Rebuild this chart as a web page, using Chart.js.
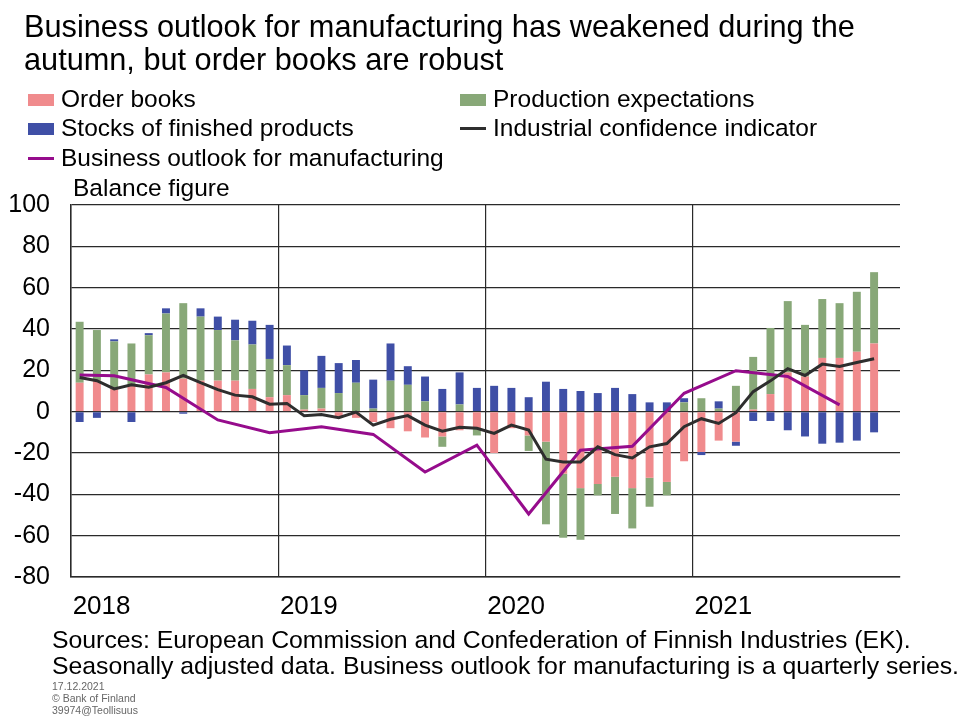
<!DOCTYPE html>
<html>
<head>
<meta charset="utf-8">
<title>Business outlook for manufacturing</title>
<script src="https://cdn.jsdelivr.net/npm/chart.js@4.4.1/dist/chart.umd.min.js"></script>
<style>
  body { margin: 0; background: #fff; font-family: "Liberation Sans", Arial, sans-serif; color: #000; }
  #page { position: relative; width: 966px; height: 718px; overflow: hidden; }
  #chart { position: absolute; left: 0; top: 0; }
  .txt { position: absolute; white-space: nowrap; }
  #title { left: 24px; top: 10px; font-size: 30.7px; line-height: 33px; }
  .leg { position: absolute; white-space: nowrap; font-size: 24.5px; line-height: 29px; }
  .leg i { position: absolute; display: block; }
  #unit { left: 73px; top: 174px; font-size: 24.5px; line-height: 28px; }
  #sources { left: 52px; top: 627px; font-size: 24.8px; line-height: 26px; }
  #small { left: 52px; top: 680px; font-size: 10.5px; line-height: 12px; color: #666; }
</style>
</head>
<body>
<div id="page">
  <canvas id="chart" width="966" height="718"></canvas>
  <div class="txt" id="title">Business outlook for manufacturing has weakened during the<br>autumn, but order books are robust</div>
  <div id="legend"></div>
  <div class="txt" id="unit">Balance figure</div>
  <div class="txt" id="sources">Sources: European Commission and Confederation of Finnish Industries (EK).<br>Seasonally adjusted data. Business outlook for manufacturing is a quarterly series.</div>
  <div class="txt" id="small">17.12.2021<br>© Bank of Finland<br>39974@Teollisuus</div>
</div>
<script>
// months Jan 2018 - Dec 2021
const years = ['2018', '2019', '2020', '2021'];
const monthNames = ['Jan', 'Feb', 'Mar', 'Apr', 'May', 'Jun', 'Jul', 'Aug', 'Sep', 'Oct', 'Nov', 'Dec'];
const labels = [];
years.forEach(y => monthNames.forEach(m => labels.push(m + ' ' + y)));

const orderBooks = [
  14, 15, 11, 13, 18, 19, 16, 15, 15, 15, 11, 7,
  8, 1, 1.5, -2.5, -3, -5, -8, -9.5, -12.5, -12, -9, -8,
  -20, -8, -11.5, -14.5, -30, -37, -35, -31.5, -37, -32, -34, -24,
  -19.5, -14, -14.5, 1, 8.5, 19, 17, 26, 26, 29, 33, null
];
const productionExpectations = [
  29.5, 24.5, 23, 20, 19, 28.5, 36.5, 31, 24.5, 19.5, 21.5, 18.5,
  14.5, 7, 10, 9, 14, 1.5, 15, 13, 5, -5, 3.5, -3.5,
  0, 0, -7.5, -40, -31, -25, -5.5, -18, -19.5, -14, -6.5, 4.5,
  6.5, 1.5, 12.5, 25.5, 32, 34.5, 25, 28.5, 26.5, 29, 34.5, null
];
const stocksOfFinishedProducts = [
  -5, -3, 1, -5, 1, 2.5, -1, 4, 6.5, 10, 11.5, 16.5,
  9.5, 12, 15.5, 14.5, 11, 14, 18, 9, 12, 11, 15.5, 11.5,
  12.5, 11.5, 7, 14.5, 11, 10, 9, 11.5, 8.5, 4.5, 4.5, 2,
  -1.5, 3.5, -2, -4.5, -4.5, -9, -12, -15.5, -15, -14, -10, null
];
const industrialConfidence = [
  16.5, 15, 11, 13, 11.8, 14, 17.6, 14, 10.7, 8, 7.2, 3.6,
  4, -2, -1.4, -2.9, -0.2, -6.5, -3.7, -1.9, -6.5, -9.4, -7.5, -8,
  -10.5, -6.5, -8.9, -23, -24.3, -24.3, -17, -20.8, -22.4, -17, -15.4, -7.3,
  -3.4, -5.7, -0.5, 9.7, 14.9, 20.8, 17.5, 23, 21.9, 23.8, 25.6, null
];
// quarterly series, placed on the last month of each quarter
const businessOutlook = [
  17.8, null, 17.4, null, null, 11.7, null, null, -4, null, null, -10.2,
  null, null, -7.3, null, null, -11, null, null, -29.2, null, null, -16.2,
  null, null, -49.5, null, null, -18.7, null, null, -16.7, null, null, 8.9,
  null, null, 19.8, null, null, 17, null, null, 3.3, null, null, null
];

const yMin = -80;
const yMax = 100;
const yStep = 20;

const colors = {
  order: '#f08b8d',
  production: '#88a878',
  stocks: '#3f4fa6',
  confidence: '#2e2e2e',
  outlook: '#960c8c'
};

// legend (two columns like the original)
const legendItems = [
  {label: 'Order books', color: colors.order, kind: 'box', x: 28, y: 84},
  {label: 'Production expectations', color: colors.production, kind: 'box', x: 460, y: 84},
  {label: 'Stocks of finished products', color: colors.stocks, kind: 'box', x: 28, y: 113},
  {label: 'Industrial confidence indicator', color: colors.confidence, kind: 'line', x: 460, y: 113},
  {label: 'Business outlook for manufacturing', color: colors.outlook, kind: 'line', x: 28, y: 143}
];
const legendEl = document.getElementById('legend');
legendItems.forEach(item => {
  const div = document.createElement('div');
  div.className = 'leg';
  div.style.left = item.x + 'px';
  div.style.top = item.y + 'px';
  div.style.paddingLeft = '33px';
  const mark = document.createElement('i');
  mark.style.left = '0px';
  mark.style.width = '26px';
  mark.style.background = item.color;
  if (item.kind === 'box') {
    mark.style.top = '10px';
    mark.style.height = '12px';
  } else {
    mark.style.top = '14px';
    mark.style.height = '3px';
  }
  div.appendChild(mark);
  div.appendChild(document.createTextNode(item.label));
  legendEl.appendChild(div);
});

Chart.defaults.font.family = '"Liberation Sans", Arial, sans-serif';
Chart.defaults.color = '#000';

const gridColor = '#2a2a2a';

new Chart(document.getElementById('chart'), {
  type: 'bar',
  data: {
    labels: labels,
    datasets: [
      {
        type: 'line', label: 'Industrial confidence indicator', data: industrialConfidence,
        borderColor: colors.confidence, borderWidth: 3, pointRadius: 0, stack: 'ici', order: 0
      },
      {
        type: 'line', label: 'Business outlook for manufacturing', data: businessOutlook,
        borderColor: colors.outlook, borderWidth: 3, pointRadius: 0, spanGaps: true, stack: 'outlook', order: 1
      },
      {label: 'Order books', data: orderBooks, backgroundColor: colors.order, stack: 'bars', order: 2},
      {label: 'Production expectations', data: productionExpectations, backgroundColor: colors.production, stack: 'bars', order: 2},
      {label: 'Stocks of finished products', data: stocksOfFinishedProducts, backgroundColor: colors.stocks, stack: 'bars', order: 2}
    ]
  },
  options: {
    responsive: false,
    animation: false,
    devicePixelRatio: 1,
    barPercentage: 0.46,
    categoryPercentage: 1,
    layout: {padding: {left: 0, top: 205, right: 66, bottom: 81}},
    plugins: {legend: {display: false}, tooltip: {enabled: false}},
    scales: {
      x: {
        stacked: true,
        afterFit: (scale) => { scale.height = 60; },
        border: {color: gridColor, width: 1.5},
        grid: {
          offset: true,
          drawTicks: false,
          lineWidth: 1.2,
          color: (ctx) => (ctx.index % 12 === 0 ? gridColor : 'rgba(0,0,0,0)')
        },
        ticks: {
          autoSkip: false,
          maxRotation: 0,
          align: 'start',
          labelOffset: -7,
          padding: 14,
          font: {size: 26},
          callback: (value, index) => (index % 12 === 0 ? labels[index].slice(4) : '')
        }
      },
      y: {
        stacked: true,
        min: yMin,
        max: yMax,
        afterFit: (scale) => { scale.width = 71; },
        border: {color: gridColor, width: 1.5},
        grid: {drawTicks: false, color: gridColor, lineWidth: 1.2},
        ticks: {stepSize: yStep, padding: 21, font: {size: 25}}
      }
    }
  }
});
</script>
</body>
</html>
